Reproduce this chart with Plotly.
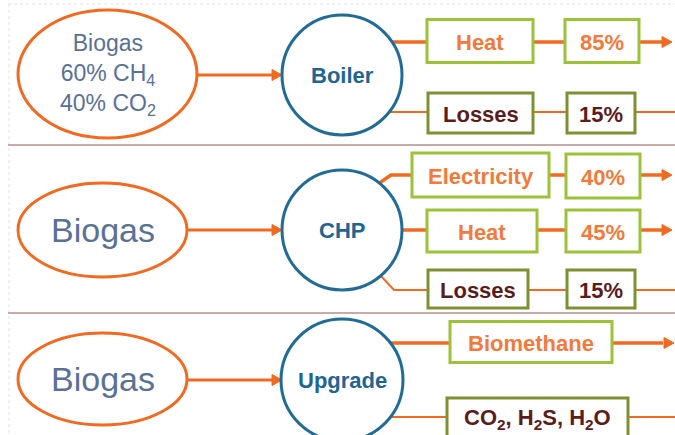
import math
import plotly.graph_objects as go

# ---------------- data ----------------
source_labels = ["Biogas<br>60% CH<sub>4</sub><br>40% CO<sub>2</sub>", "Biogas", "Biogas"]
process_labels = ["Boiler", "CHP", "Upgrade"]

boiler_outputs = ["Heat", "Losses"]
boiler_shares = [85, 15]

chp_outputs = ["Electricity", "Heat", "Losses"]
chp_shares = [40, 45, 15]

upgrade_outputs = ["Biomethane", "CO<sub>2</sub>, H<sub>2</sub>S, H<sub>2</sub>O"]

# ---------------- styles ----------------
W, H = 675, 435
ORANGE = "#f26a21"
ORANGE_TXT = "#f47a3a"
BLUE = "#216b96"
BLUE_TXT = "#1f6592"
SLATE = "#5a7196"
GREEN = "#9cc23a"
OLIVE = "#7d9132"
MAROON = "#5b1c1c"
SEP = "#c9a9a9"
FONT = "Liberation Sans, Arial, sans-serif"
BOX_FONT = 22
CIRCLE_FONT = 22

shapes = []
annotations = []


def line(x0, y0, x1, y1, width=3, color=ORANGE):
    shapes.append(dict(type="line", x0=x0, y0=y0, x1=x1, y1=y1,
                       line=dict(color=color, width=width), layer="below"))


def polyline(pts, width=3, color=ORANGE):
    d = "M " + " L ".join(f"{x},{y}" for x, y in pts)
    shapes.append(dict(type="path", path=d, line=dict(color=color, width=width), layer="below"))


def head(x, y, size=10, color=ORANGE):
    d = f"M {x},{y} L {x-size},{y-size*0.55} L {x-size},{y+size*0.55} Z"
    shapes.append(dict(type="path", path=d, fillcolor=color, line=dict(color=color, width=1)))


def box(x0, x1, yc, h, text, border, tcolor):
    shapes.append(dict(type="rect", x0=x0, x1=x1, y0=yc - h / 2, y1=yc + h / 2,
                       fillcolor="white", line=dict(color=border, width=3)))
    annotations.append(dict(x=(x0 + x1) / 2, y=yc + 1, text=f"<b>{text}</b>", showarrow=False,
                            font=dict(family=FONT, size=BOX_FONT, color=tcolor),
                            xanchor="center", yanchor="middle"))


def ellipse(cx, cy, rx, ry, text, size):
    shapes.append(dict(type="circle", x0=cx - rx, x1=cx + rx, y0=cy - ry, y1=cy + ry,
                       fillcolor="white", line=dict(color=ORANGE, width=3)))
    annotations.append(dict(x=cx, y=cy, text=text, showarrow=False,
                            font=dict(family=FONT, size=size, color=SLATE),
                            xanchor="center", yanchor="middle"))


def circle(cx, cy, r, text):
    shapes.append(dict(type="circle", x0=cx - r, x1=cx + r, y0=cy - r, y1=cy + r,
                       fillcolor="white", line=dict(color=BLUE, width=3)))
    annotations.append(dict(x=cx, y=cy, text=f"<b>{text}</b>", showarrow=False,
                            font=dict(family=FONT, size=CIRCLE_FONT, color=BLUE_TXT),
                            xanchor="center", yanchor="middle"))


def edge(cx, cy, r, y):
    return cx + math.sqrt(max(r * r - (y - cy) ** 2, 0))


# frame: faint dotted border and section separators
shapes.append(dict(type="line", x0=8, x1=W, y0=4, y1=4, line=dict(color="#e3e3e3", width=1, dash="dot")))
shapes.append(dict(type="line", x0=9, x1=9, y0=4, y1=H, line=dict(color="#e3e3e3", width=1, dash="dot")))
for ys in (145, 313):
    shapes.append(dict(type="line", x0=8, x1=W, y0=ys, y1=ys, line=dict(color=SEP, width=2)))

CX, R = 342, 60
TIP = 672

# ---------- Section 1: Boiler ----------
cy = 75
line(197, cy, 272, cy)
head(282, cy)
ellipse(107.5, 74, 89.5, 64, source_labels[0], 23)
y_heat, y_loss = 42, 112
line(edge(CX, cy, R, y_heat) - 3, y_heat, TIP - 9, y_heat, width=3.5)
head(TIP, y_heat)
line(edge(CX, cy, R, y_loss) - 3, y_loss, W, y_loss, width=2)
circle(CX, cy, R, process_labels[0])
box(427, 533, 41, 43, boiler_outputs[0], GREEN, ORANGE_TXT)
box(565, 639, 41, 43, f"{boiler_shares[0]}%", GREEN, ORANGE_TXT)
box(428, 533, 113, 40, boiler_outputs[1], OLIVE, MAROON)
box(567, 635, 113, 40, f"{boiler_shares[1]}%", OLIVE, MAROON)

# ---------- Section 2: CHP ----------
cy = 230
line(187, cy, 272, cy)
head(282, cy)
ellipse(102.5, cy, 84.5, 47, source_labels[1], 34)
y_el, y_ht, y_ls = 175, 230, 290
polyline([(378, 184), (391, y_el), (TIP - 9, y_el)], width=3.5)
head(TIP, y_el)
line(CX, y_ht, TIP - 9, y_ht, width=3.5)
head(TIP, y_ht)
polyline([(380, 275), (394, y_ls), (W, y_ls)], width=2)
circle(CX, cy, R, process_labels[1])
box(412, 549, 175, 44, chp_outputs[0], GREEN, ORANGE_TXT)
box(566, 640, 176, 44, f"{chp_shares[0]}%", GREEN, ORANGE_TXT)
box(427, 537, 231, 42, chp_outputs[1], GREEN, ORANGE_TXT)
box(566, 640, 231, 42, f"{chp_shares[1]}%", GREEN, ORANGE_TXT)
box(428, 528, 289, 38, chp_outputs[2], OLIVE, MAROON)
box(567, 635, 289, 38, f"{chp_shares[2]}%", OLIVE, MAROON)

# ---------- Section 3: Upgrade ----------
cy = 380
line(187, cy, 272, cy)
head(282, cy)
ellipse(102.5, 379, 84.5, 46, source_labels[2], 34)
y_bm, y_co = 343, 417
line(CX, y_bm, TIP - 9, y_bm, width=3.5)
head(TIP + 2, y_bm)
line(CX, y_co, W, y_co, width=2)
circle(CX, cy, 61, process_labels[2])
box(450, 612, 342, 41, upgrade_outputs[0], GREEN, ORANGE_TXT)
box(447, 628, 418, 40, upgrade_outputs[1], OLIVE, MAROON)

fig = go.Figure()
fig.update_layout(
    width=W, height=H,
    margin=dict(l=0, r=0, t=0, b=0),
    paper_bgcolor="white", plot_bgcolor="white",
    xaxis=dict(range=[0, W], visible=False, fixedrange=True),
    yaxis=dict(range=[H, 0], visible=False, fixedrange=True),
    shapes=shapes, annotations=annotations,
    showlegend=False,
)
fig.write_html(
    "out.html",
    config={"displayModeBar": False},
    post_script="document.body.style.margin='0px';document.body.style.overflow='hidden';",
)
